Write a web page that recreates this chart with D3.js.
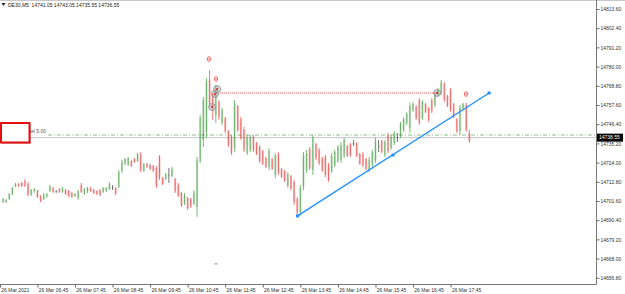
<!DOCTYPE html>
<html><head><meta charset="utf-8">
<script src="https://cdn.jsdelivr.net/npm/d3@7"></script>
<style>body{margin:0;background:#fff;} svg{display:block;font-family:"Liberation Sans",Arial,sans-serif;}</style>
</head><body><svg id="c" width="625" height="294"></svg>
<script>
const opens=[
14701.0,14701.0,14702.8,14705.7,14709.8,14711.5,14712.1,14713.3,14711.5,14705.1,
14707.4,14708.0,14703.9,14702.8,14704.5,14707.4,14709.2,14707.4,14708.6,14706.9,
14708.0,14707.4,14706.3,14704.5,14703.4,14710.9,14705.7,14707.4,14709.2,14708.0,
14707.4,14708.0,14706.9,14707.4,14708.6,14709.8,14709.2,14709.8,14719.1,14723.2,
14722.6,14724.9,14726.1,14724.9,14729.0,14719.1,14723.2,14722.6,14722.0,14720.9,
14727.3,14715.0,14714.4,14716.8,14716.2,14714.4,14710.9,14706.3,14699.9,14703.4,
14702.8,14699.9,14698.1,14724.9,14737.2,14741.9,14772.2,14763.4,14751.8,14759.4,
14747.1,14750.0,14742.4,14738.9,14732.5,14757.0,14749.4,14743.0,14729.6,14731.4,
14738.9,14735.4,14733.1,14730.8,14726.7,14721.4,14726.1,14716.8,14729.0,14720.3,
14719.1,14710.4,14716.2,14712.7,14702.8,14695.2,14709.8,14719.7,14731.9,14719.7,
14734.9,14731.4,14726.7,14727.3,14722.6,14719.1,14722.6,14724.9,14725.5,14727.9,
14733.7,14734.9,14735.4,14735.4,14729.0,14729.0,14726.1,14719.7,14722.6,14725.5,
14733.7,14736.6,14728.4,14740.1,14732.5,14735.4,14738.9,14739.5,14743.0,14747.1,
14744.2,14754.7,14756.4,14760.5,14750.0,14758.2,14755.9,14760.5,14757.6,14763.4,
14764.6,14769.9,14762.9,14766.4,14758.2,14749.4,14742.4,14755.3,14757.6,14741.05];
const highs=[
14703.4,14702.8,14706.3,14709.8,14712.1,14712.1,14712.7,14714.4,14712.7,14708.6,
14709.2,14708.0,14705.1,14706.3,14706.3,14710.9,14709.8,14708.0,14709.2,14709.8,
14708.6,14708.0,14706.9,14706.3,14708.0,14712.1,14709.2,14709.8,14709.8,14708.6,
14708.0,14708.6,14709.8,14709.8,14712.7,14710.9,14709.8,14719.7,14725.5,14726.7,
14727.3,14725.5,14726.7,14729.6,14730.2,14723.8,14723.8,14723.2,14722.6,14722.0,
14728.4,14715.6,14717.9,14720.9,14721.4,14715.0,14712.1,14706.9,14706.3,14703.9,
14703.4,14708.0,14727.3,14751.8,14762.3,14773.4,14778.0,14764.6,14769.3,14760.5,
14755.9,14750.6,14743.0,14740.1,14760.5,14757.6,14750.6,14744.8,14740.1,14740.1,
14740.1,14736.0,14734.3,14731.4,14727.3,14732.5,14726.7,14729.6,14730.2,14720.9,
14719.7,14718.5,14716.8,14713.9,14703.9,14710.9,14730.2,14731.4,14733.1,14740.1,
14735.4,14732.5,14727.3,14728.4,14723.8,14729.6,14731.4,14734.3,14736.0,14738.4,
14734.3,14735.4,14737.2,14736.0,14729.6,14730.2,14726.7,14727.3,14731.4,14738.4,
14737.2,14737.2,14737.2,14741.3,14740.1,14742.4,14741.3,14747.7,14750.6,14753.5,
14758.8,14759.4,14757.6,14761.7,14760.5,14758.8,14756.4,14761.7,14765.2,14767.5,
14772.2,14771.0,14763.4,14767.5,14758.8,14750.0,14757.6,14758.8,14758.8,14743.05];
const lows=[
14700.4,14700.4,14702.2,14705.1,14709.8,14709.8,14709.8,14709.8,14704.5,14704.5,
14706.3,14703.4,14701.0,14702.2,14703.4,14706.9,14706.3,14706.3,14706.3,14706.3,
14705.1,14703.9,14703.4,14703.9,14702.2,14706.3,14705.1,14706.3,14706.9,14705.7,
14705.1,14704.5,14706.3,14706.9,14708.0,14708.0,14705.1,14709.2,14717.9,14722.6,
14722.0,14721.4,14723.8,14724.4,14718.5,14718.5,14720.9,14719.7,14718.5,14709.2,
14713.9,14710.9,14713.9,14712.1,14715.6,14706.3,14703.9,14698.1,14699.3,14696.4,
14697.5,14699.3,14692.3,14723.8,14733.1,14738.4,14756.4,14748.9,14747.1,14748.9,
14745.9,14741.3,14733.1,14728.4,14730.2,14741.9,14737.2,14730.2,14728.4,14730.2,
14730.2,14728.4,14723.8,14722.6,14720.9,14719.7,14719.7,14715.0,14716.8,14715.0,
14712.7,14709.2,14708.0,14699.3,14693.4,14692.9,14708.0,14717.9,14719.7,14716.8,
14725.5,14722.6,14718.5,14715.6,14712.7,14717.9,14721.4,14723.8,14723.8,14726.7,
14727.3,14727.3,14733.7,14727.3,14722.6,14721.4,14719.7,14718.5,14721.4,14723.8,
14730.2,14729.6,14727.3,14729.6,14731.4,14734.3,14736.0,14738.4,14741.9,14745.9,
14741.3,14753.5,14748.9,14745.9,14748.9,14752.9,14747.7,14752.9,14756.4,14762.9,
14763.4,14759.4,14756.4,14753.5,14750.0,14741.3,14740.1,14754.7,14741.9,14735.55];
const closes=[
14702.8,14702.2,14705.7,14709.2,14711.5,14710.4,14710.4,14710.4,14705.1,14708.0,
14708.6,14703.9,14701.6,14705.1,14705.7,14710.4,14706.9,14707.4,14706.9,14709.2,
14705.7,14704.5,14703.9,14705.7,14707.4,14706.9,14708.6,14709.2,14707.4,14706.3,
14705.7,14705.1,14709.2,14709.2,14711.5,14709.8,14705.7,14718.5,14724.4,14726.1,
14726.7,14722.0,14724.4,14729.0,14719.7,14723.2,14721.4,14720.3,14719.1,14710.4,
14715.0,14711.5,14717.4,14716.8,14720.3,14707.4,14704.5,14699.3,14705.1,14697.5,
14698.7,14706.3,14725.5,14750.0,14760.5,14771.0,14758.2,14756.4,14766.4,14750.6,
14754.7,14742.4,14734.3,14729.6,14758.8,14743.0,14738.4,14731.4,14738.4,14738.9,
14731.4,14729.0,14724.9,14723.2,14721.4,14730.8,14720.3,14727.9,14717.9,14715.6,
14713.3,14717.4,14708.6,14701.0,14694.6,14709.2,14728.4,14729.6,14720.9,14738.4,
14726.7,14723.8,14719.7,14716.8,14713.9,14727.9,14730.2,14733.1,14734.3,14737.2,
14727.9,14728.4,14735.4,14727.9,14723.2,14722.6,14720.3,14725.5,14730.2,14736.6,
14733.7,14730.2,14736.0,14730.8,14738.9,14741.3,14738.9,14746.5,14749.4,14752.4,
14757.0,14758.2,14750.0,14747.1,14759.4,14753.5,14748.9,14754.1,14764.0,14766.4,
14771.0,14760.5,14757.0,14754.7,14750.6,14742.4,14755.9,14758.2,14743.0,14736.55];

const timeLabels=["26 Mar 2021","26 Mar 06:45","26 Mar 07:45","26 Mar 08:45","26 Mar 09:45","26 Mar 10:45","26 Mar 11:45","26 Mar 12:45","26 Mar 13:45","26 Mar 14:45","26 Mar 15:45","26 Mar 16:45","26 Mar 17:45"];
const timeLabelIdx=[0,11,23,35,47,59,71,83,95,107,119,131,143];
const priceTicks=[14656.8,14668.0,14679.2,14690.4,14701.6,14712.8,14724.0,14735.2,14746.4,14757.6,14768.8,14780.0,14791.2,14802.4,14813.6];
const header="DE30,M5  14741.05 14743.05 14735.55 14736.55";
const bidPrice=14738.55;
const levelPrice=14740.1, levelText="Level 5.00";
const hLine={i0:68.05,i1:138.7,p:14764.6};
const circles=[{i:68.4,p:14766.9},{i:67.7,p:14764.0},{i:66.8,p:14756.4},{i:138.7,p:14764.6}];
const fractals=[{i:65.8,p:14784.4},{i:68.05,p:14772.8},{i:147.9,p:14764.0}];
const trend=[{i:94.1,p:14692.9},{i:124.6,p:14728.4},{i:155.3,p:14764.6}];

const W=625,H=294, plotR=596.5, plotB=284.5;
const svg=d3.select("#c");
const x=d3.scaleLinear().domain([0,190]).range([3,3+190*3.13]);
const y=d3.scaleLinear().domain([14656.8,14813.6]).range([277.8,9]);

svg.append("line").attr("x1",0).attr("x2",W).attr("y1",0.5).attr("y2",0.5).attr("stroke","#c8c8c8");

// bid line
svg.append("line").attr("x1",0).attr("x2",plotR).attr("y1",y(bidPrice)).attr("y2",y(bidPrice)).attr("stroke","#c4c4c4").attr("stroke-width",1);
// level line
svg.append("line").attr("x1",48).attr("x2",plotR).attr("y1",y(levelPrice)).attr("y2",y(levelPrice))
  .attr("stroke","#8cbf8c").attr("stroke-width",1).attr("stroke-dasharray","4,2,1,2");
svg.append("text").attr("x",23).attr("y",y(levelPrice)-2).attr("font-size",5).attr("fill","#555").text(levelText);

// bars
const bars=d3.range(opens.length).map(i=>({i,o:opens[i],h:highs[i],l:lows[i],c:closes[i]}));
const col=d=>d.c>d.o?"#3f9a3f":(d.c<d.o?"#e83b3b":"#333");
const gb=svg.append("g");
gb.selectAll("rect.b").data(bars).join("rect").attr("class","b")
  .attr("x",d=>x(d.i)-1.1).attr("width",2.2)
  .attr("y",d=>y(Math.max(d.o,d.c))).attr("height",d=>Math.max(0.8,Math.abs(y(d.o)-y(d.c))))
  .attr("fill",col).attr("opacity",0.28);
gb.selectAll("line.w").data(bars).join("line").attr("class","w")
  .attr("x1",d=>x(d.i)).attr("x2",d=>x(d.i)).attr("y1",d=>y(d.h)).attr("y2",d=>y(d.l))
  .attr("stroke",col).attr("stroke-width",1).attr("opacity",0.68);

// red dotted horizontal
svg.append("line").attr("x1",x(hLine.i0)).attr("x2",x(hLine.i1)).attr("y1",y(hLine.p)).attr("y2",y(hLine.p))
  .attr("stroke","#f05a5a").attr("stroke-width",1).attr("stroke-dasharray","1,1");

// circles
svg.selectAll("circle.m").data(circles).join("circle").attr("class","m")
  .attr("cx",d=>x(d.i)).attr("cy",d=>y(d.p)).attr("r",3.6)
  .attr("fill","rgba(150,150,150,0.45)").attr("stroke","#9a9a9a").attr("stroke-width",0.8);
svg.selectAll("circle.md").data(circles).join("circle").attr("class","md")
  .attr("cx",d=>x(d.i)).attr("cy",d=>y(d.p)).attr("r",1.1).attr("fill","#e03030");

// fractal markers
const gf=svg.append("g");
fractals.forEach(d=>{
  const cx=x(d.i), cy=y(d.p);
  gf.append("ellipse").attr("cx",cx).attr("cy",cy).attr("rx",1.6).attr("ry",2.4).attr("fill","none").attr("stroke","#f04848").attr("stroke-width",0.8);
  gf.append("line").attr("x1",cx-1.6).attr("x2",cx+1.6).attr("y1",cy).attr("y2",cy).attr("stroke","#f04848").attr("stroke-width",0.7);
});
svg.append("line").attr("x1",x(68.05)-1.5).attr("x2",x(68.05)+1.5).attr("y1",y(14664.9)).attr("y2",y(14664.9)).attr("stroke","#888").attr("stroke-width",1);

// trend line
svg.append("line").attr("x1",x(trend[0].i)).attr("y1",y(trend[0].p)).attr("x2",x(trend[2].i)).attr("y2",y(trend[2].p))
  .attr("stroke","#1e90ff").attr("stroke-width",1.3);
svg.selectAll("rect.h").data(trend).join("rect").attr("class","h")
  .attr("x",d=>x(d.i)-1.5).attr("y",d=>y(d.p)-1.5).attr("width",3).attr("height",3).attr("fill","#1e90ff");

// red box
svg.append("rect").attr("x",2).attr("y",124).attr("width",29).attr("height",20).attr("fill","#a02020").attr("opacity",0.35);
svg.append("rect").attr("x",1).attr("y",123).attr("width",28.5).attr("height",19.5).attr("fill","#fff").attr("stroke","#e31010").attr("stroke-width",2);

// axes
const ya=d3.axisRight(y).tickValues(priceTicks).tickSize(3).tickPadding(1).tickFormat(d3.format(".2f"));
const gy=svg.append("g").attr("transform",`translate(${plotR},0)`).call(ya);
gy.select(".domain").remove();
gy.selectAll("line").attr("stroke","#666");
gy.selectAll("text").attr("font-size",5).attr("fill","#333").attr("font-family","Liberation Sans, Arial, sans-serif");

const xa=d3.axisBottom(x).tickValues(timeLabelIdx).tickSize(3).tickPadding(1).tickFormat((d,i)=>timeLabels[i]);
const gx=svg.append("g").attr("transform",`translate(0,${plotB})`).call(xa);
gx.select(".domain").remove();
gx.selectAll(".tick").filter((d,i)=>i===0).attr("transform","translate(0.5,0)");
gx.selectAll("line").attr("stroke","#666");
gx.selectAll("text").attr("font-size",5).attr("fill","#333").attr("text-anchor","start").attr("dx",0.8).attr("font-family","Liberation Sans, Arial, sans-serif");

svg.append("line").attr("x1",plotR).attr("x2",plotR).attr("y1",0).attr("y2",plotB).attr("stroke","#777");
svg.append("line").attr("x1",0).attr("x2",plotR).attr("y1",plotB).attr("y2",plotB).attr("stroke","#777");

// current price label
svg.append("rect").attr("x",plotR+0.5).attr("y",y(bidPrice)-4).attr("width",26).attr("height",8).attr("fill","#000");
svg.append("text").attr("x",plotR+2.5).attr("y",y(bidPrice)+1.8).attr("font-size",5).attr("fill","#fff").text(d3.format(".2f")(bidPrice));

// header
svg.append("path").attr("d","M1.5,3 L5.5,3 L3.5,6 Z").attr("fill","#222");
svg.append("text").attr("x",8).attr("y",6.8).attr("font-size",5).attr("fill","#222").attr("xml:space","preserve").style("white-space","pre").text(header);
</script></body></html>
